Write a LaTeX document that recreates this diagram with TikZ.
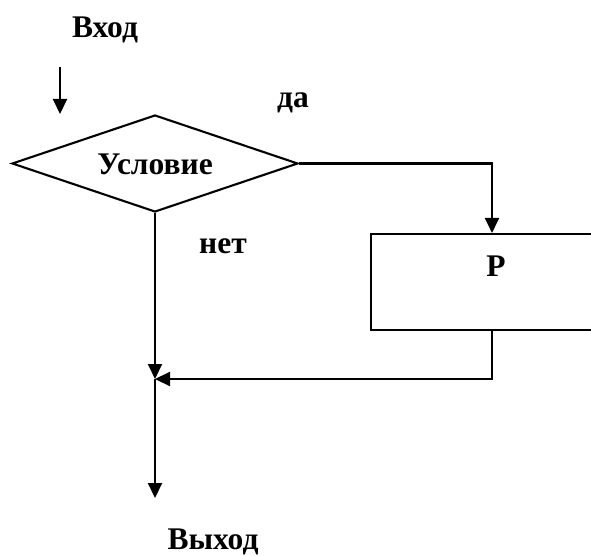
\documentclass[tikz,border=0pt]{standalone}
\usepackage{fontspec}
\setmainfont{Liberation Serif}
\usetikzlibrary{shapes.geometric,arrows.meta}
\begin{document}
\begin{tikzpicture}[x=1pt,y=-1pt,
  line width=2.1pt,
  lbl/.style={font=\fontsize{31.5}{36}\selectfont\bfseries, inner sep=0pt, anchor=base},
  cond/.style={draw, diamond, shape aspect=2.95, minimum width=286pt, minimum height=97pt, inner sep=0pt},
  procbox/.style={draw, rectangle, minimum width=242pt, minimum height=96pt, inner sep=0pt},
  arr/.style={-{Triangle[length=15pt,width=14pt]}}
]
\useasboundingbox (0,0) rectangle (591,556);
\begin{scope}
\clip (0,0) rectangle (591,556);
% entry
\node[lbl] (vhod) at (105,38) {Вход};
\coordinate (ins) at (60,67);
\coordinate (ine) at (60,114);
\draw[arr] (ins) -- (ine);
% condition
\node[cond] (c) at (155,163.5) {};
\node[lbl] (ctext) at (155,175) {Условие};
\node[lbl] (da) at (293,108) {да};
\node[lbl] (net) at (223,253) {нет};
% process box
\node[procbox] (p) at (492,282) {};
\node[lbl] (ptext) at (496,276) {P};
% join and exit
\coordinate (join) at (155,379);
\coordinate (outend) at (155,498);
\node[lbl] (vyhod) at (213,549) {Выход};
% connectors
\draw[arr] (c.east) -| (p.north);
\draw[arr] (c.south) -- (join);
\draw[arr] (p.south) |- (join);
\draw[arr] (join) -- (outend);
\end{scope}
\end{tikzpicture}
\end{document}
